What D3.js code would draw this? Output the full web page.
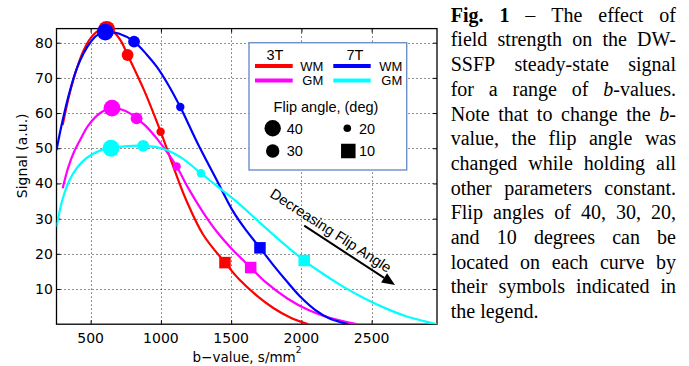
<!DOCTYPE html>
<html><head><meta charset="utf-8">
<script src="https://cdn.jsdelivr.net/npm/d3@7"></script>
<style>body{margin:0;background:#fff}svg{display:block}</style>
</head><body>
<svg id="c" width="689" height="366"></svg>
<script>
// ---------------- DATA ----------------
const xTicks = [500, 1000, 1500, 2000, 2500];
const yTicks = [10, 20, 30, 40, 50, 60, 70, 80];
const flipAngles = [40, 30, 20, 10];
const seriesNames = ["3T WM", "3T GM", "7T WM", "7T GM"];

// curve samples [b-value, signal]
const wm3T = [[301,56.6],[350,65.5],[400,72.5],[450,77.8],[500,81.3],[555,83.4],[614,84],[665,83],[715,80.5],[763,76.5],[880,66.5],[998,54.7],[1100,43.5],[1183,35],[1300,25.5],[1456,17.5],[1560,12.6],[1680,8.2],[1800,4.6],[1920,1.9],[2049,0]];
const gm3T = [[301,38.6],[340,44.5],[380,48.8],[424,52.3],[480,56.3],[543,59.2],[600,60.8],[652,61.4],[720,61.0],[780,59.9],[827,58.5],[900,56],[970,52.8],[1040,49.1],[1112,44.8],[1200,38.3],[1300,31.8],[1400,26.2],[1500,21.6],[1639,16.1],[1750,11.8],[1900,7.3],[2050,4],[2200,1.8],[2393,0]];
const wm7T = [[257,49.5],[300,57.8],[350,66],[400,72.5],[450,77],[500,80.2],[550,82.2],[604,83],[700,82.6],[809,80.3],[900,76.6],[970,73.2],[1050,68.2],[1138,61.7],[1260,51.5],[1397,41],[1515,32],[1610,26.5],[1705,21.7],[1800,16.8],[1900,12],[2000,7.5],[2100,4],[2200,1.6],[2333,0]];
const gm7T = [[257,27.7],[300,35.5],[350,41],[400,44.3],[450,46.5],[500,48],[570,49.4],[645,50],[760,50.6],[874,50.7],[960,50.4],[1041,49.5],[1150,47.2],[1285,42.9],[1420,38.6],[1563,34],[1700,29],[1850,23.7],[2020,18.1],[2150,14.4],[2300,10.6],[2450,7.3],[2600,4.5],[2750,2.2],[2880,0.8],[2963,0]];

// flip-angle markers (40, 30, 20, 10 deg) [b-value, signal]
const wm3TMarks = [[614,83.8],[763,76.5],[998,54.7],[1456,17.5]];
const gm3TMarks = [[652,61.4],[827,58.5],[1112,44.8],[1639,16.1]];
const wm7TMarks = [[604,83],[809,80.3],[1138,61.7],[1705,21.7]];
const gm7TMarks = [[645,50],[874,50.7],[1285,42.9],[2020,18.1]];

const captionLines = [
  "**Fig.** **1** – The effect of",
  "field strength on the DW-",
  "SSFP steady-state signal",
  "for a range of _b_-values.",
  "Note that to change the _b_-",
  "value, the flip angle was",
  "changed while holding all",
  "other parameters constant.",
  "Flip angles of 40, 30, 20,",
  "and 10 degrees can be",
  "located on each curve by",
  "their symbols indicated in",
  "the legend."
];

// ---------------- LAYOUT ----------------
const svg = d3.select("#c");
const L = 56.5, R = 437, T = 28.6, B = 324.2;
const x = d3.scaleLinear().domain([257, 2965]).range([L, R]);
const y = d3.scaleLinear().domain([0, 84]).range([B, T]);
const colors = {"3T WM":"#ff0000","3T GM":"#ff00ff","7T WM":"#0000ff","7T GM":"#00ffff"};
const curves = {"3T WM":wm3T,"3T GM":gm3T,"7T WM":wm7T,"7T GM":gm7T};
const marks = {"3T WM":wm3TMarks,"3T GM":gm3TMarks,"7T WM":wm7TMarks,"7T GM":gm7TMarks};
const sans = "'Liberation Sans', Arial, Helvetica, sans-serif";
const dvs = "'DejaVu Sans', sans-serif";
const cr = v => Math.round(v) + 0.5;

// grid
const grid = svg.append("g").attr("stroke","#000").attr("stroke-width",1).attr("stroke-dasharray","1,3").attr("opacity",0.85);
grid.selectAll("line.gx").data(xTicks).join("line").attr("class","gx")
  .attr("x1",d=>cr(x(d))).attr("x2",d=>cr(x(d))).attr("y1",T).attr("y2",B);
grid.selectAll("line.gy").data(yTicks).join("line").attr("class","gy")
  .attr("y1",d=>cr(y(d))).attr("y2",d=>cr(y(d))).attr("x1",L).attr("x2",R);

// axes via d3 axis (inward ticks)
const tl = 4;
const axB = svg.append("g").attr("transform",`translate(0,${B})`)
  .call(d3.axisBottom(x).tickValues(xTicks).tickSize(-tl).tickFormat(""));
const axT = svg.append("g").attr("transform",`translate(0,${T})`)
  .call(d3.axisTop(x).tickValues(xTicks).tickSize(-tl).tickFormat(""));
const axLft = svg.append("g").attr("transform",`translate(${L},0)`)
  .call(d3.axisLeft(y).tickValues(yTicks).tickSize(-tl).tickFormat(""));
const axRt = svg.append("g").attr("transform",`translate(${R},0)`)
  .call(d3.axisRight(y).tickValues(yTicks).tickSize(-tl).tickFormat(""));
[axB,axT,axLft,axRt].forEach(a=>{a.select(".domain").remove(); a.selectAll("line").attr("stroke","#000").attr("stroke-width",1);});
svg.append("rect").attr("x",L).attr("y",T).attr("width",R-L).attr("height",B-T)
  .attr("fill","none").attr("stroke","#000").attr("stroke-width",1.3);

// tick labels
svg.append("g").selectAll("text").data(xTicks).join("text")
  .attr("x",d=>x(d)).attr("y",342.9).attr("text-anchor","middle")
  .attr("font-family",dvs).attr("font-size",14).text(d=>d);
svg.append("g").selectAll("text").data(yTicks).join("text")
  .attr("x",52.8).attr("y",d=>y(d)+5).attr("text-anchor","end")
  .attr("font-family",dvs).attr("font-size",14).text(d=>d);

// axis titles
const xl = svg.append("text").attr("x",247).attr("y",361.7).attr("text-anchor","middle")
  .attr("font-family",dvs).attr("font-size",13.5);
xl.append("tspan").text("b\u2212value, s/mm");
xl.append("tspan").attr("font-size",9).attr("dy",-8.5).text("2");
svg.append("text").attr("transform","translate(26.7,155.8) rotate(-90)").attr("text-anchor","middle")
  .attr("font-family",dvs).attr("font-size",14).text("Signal (a.u.)");

// curves
svg.append("clipPath").attr("id","pc").append("rect").attr("x",L).attr("y",T).attr("width",R-L).attr("height",B-T);
const line = d3.line().x(d=>x(d[0])).y(d=>y(d[1])).curve(d3.curveCatmullRom.alpha(0.5));
const cg = svg.append("g").attr("clip-path","url(#pc)");
seriesNames.forEach(n=>{
  cg.append("path").datum(curves[n]).attr("d",line).attr("fill","none")
    .attr("stroke",colors[n]).attr("stroke-width",2.2).attr("stroke-linejoin","round");
});

// markers
const markR = {40:8.4, 30:5.9, 20:4.2};
const sq = 11.5;
const mg = svg.append("g");
seriesNames.forEach(n=>{
  marks[n].forEach((d,i)=>{
    const fa = flipAngles[i];
    if (fa === 10) {
      mg.append("rect").attr("x",x(d[0])-sq/2).attr("y",y(d[1])-sq/2).attr("width",sq).attr("height",sq).attr("fill",colors[n]);
    } else {
      mg.append("circle").attr("cx",x(d[0])).attr("cy",y(d[1])).attr("r",markR[fa]).attr("fill",colors[n]);
    }
  });
});

// legend
const lg = svg.append("g").attr("font-family",sans).attr("font-size",14.5).attr("fill","#000");
lg.append("rect").attr("x",249).attr("y",42.7).attr("width",157.7).attr("height",127.3)
  .attr("fill","#fff").attr("stroke","#6a8fca").attr("stroke-width",1.4);
lg.append("text").attr("x",275).attr("y",60).attr("text-anchor","middle").text("3T");
lg.append("text").attr("x",355).attr("y",60).attr("text-anchor","middle").text("7T");
const legCols = [[["3T WM","WM"],["3T GM","GM"],255,292.7,323.3],[["7T WM","WM"],["7T GM","GM"],333.3,370.7,402.3]];
const rowY = [65.9, 80.5];
legCols.forEach(c=>{
  [c[0],c[1]].forEach((s,k)=>{
    lg.append("line").attr("x1",c[2]).attr("x2",c[3]).attr("y1",rowY[k]).attr("y2",rowY[k]).attr("stroke",colors[s[0]]).attr("stroke-width",4);
    lg.append("text").attr("x",c[4]).attr("y",rowY[k]+4.7).attr("text-anchor","end").attr("font-size",13).text(s[1]);
  });
});
lg.append("text").attr("x",326).attr("y",111.7).attr("text-anchor","middle").text("Flip angle, (deg)");
const legMarks = [[40,272.7,128.3,"c",8.2],[20,347.3,128.3,"c",3.8],[30,272.7,151,"c",6.7],[10,348.3,151,"s",14.5]];
legMarks.forEach(m=>{
  if (m[3]==="c") lg.append("circle").attr("cx",m[1]).attr("cy",m[2]).attr("r",m[4]).attr("fill","#000");
  else lg.append("rect").attr("x",m[1]-m[4]/2).attr("y",m[2]-m[4]/2).attr("width",m[4]).attr("height",m[4]).attr("fill","#000");
  lg.append("text").attr("x",m[0]===40||m[0]===30?286.7:359).attr("y",m[2]+5.2).text(m[0]);
});

// annotation
const a0 = [x(2020), y(28.0)], a1 = [x(2666), y(11.14)];
const ang = Math.atan2(a1[1]-a0[1], a1[0]-a0[0]);
const hl = 13, hw = 5.5;
const bx = a1[0]-hl*Math.cos(ang), by = a1[1]-hl*Math.sin(ang);
svg.append("line").attr("x1",a0[0]).attr("y1",a0[1]).attr("x2",bx).attr("y2",by).attr("stroke","#000").attr("stroke-width",2);
svg.append("path").attr("fill","#000").attr("d",
  `M${a1[0]},${a1[1]}L${bx+hw*Math.sin(ang)},${by-hw*Math.cos(ang)}L${bx-hw*Math.sin(ang)},${by+hw*Math.cos(ang)}Z`);
svg.append("text").attr("transform",`translate(${x(2210)},${y(26.6)}) rotate(33)`)
  .attr("text-anchor","middle").attr("dominant-baseline","central")
  .attr("font-family",sans).attr("font-size",14.5).text("Decreasing Flip Angle");

// caption (justified)
const capL = 450.7, capR = 676, capTop = 21.7, capLead = 24.7;
const cap = svg.append("g").attr("font-family","'Liberation Serif','Times New Roman',serif").attr("font-size",20).attr("fill","#000");
function parse(w){
  const out=[]; const re=/(\*\*[^*]+\*\*|_[^_]+_|[^*_]+)/g; let m;
  while((m=re.exec(w))){const s=m[0];
    if(s.startsWith("**")) out.push({t:s.slice(2,-2),b:true});
    else if(s.startsWith("_")) out.push({t:s.slice(1,-1),i:true});
    else out.push({t:s});}
  return out;
}
captionLines.forEach((ln,i)=>{
  const yy = capTop + i*capLead;
  const words = ln.split(" ");
  const nodes = words.map(w=>{
    const t = cap.append("text").attr("y",yy);
    parse(w).forEach(s=>{const ts=t.append("tspan").text(s.t); if(s.b) ts.attr("font-weight","bold"); if(s.i) ts.attr("font-style","italic");});
    return t;
  });
  const widths = nodes.map(n=>n.node().getComputedTextLength());
  const last = i === captionLines.length-1;
  const gap = last ? 5 : (capR-capL-d3.sum(widths))/(words.length-1);
  let xx = capL;
  nodes.forEach((n,j)=>{n.attr("x",xx); xx += widths[j]+gap;});
});
</script>
</body></html>
